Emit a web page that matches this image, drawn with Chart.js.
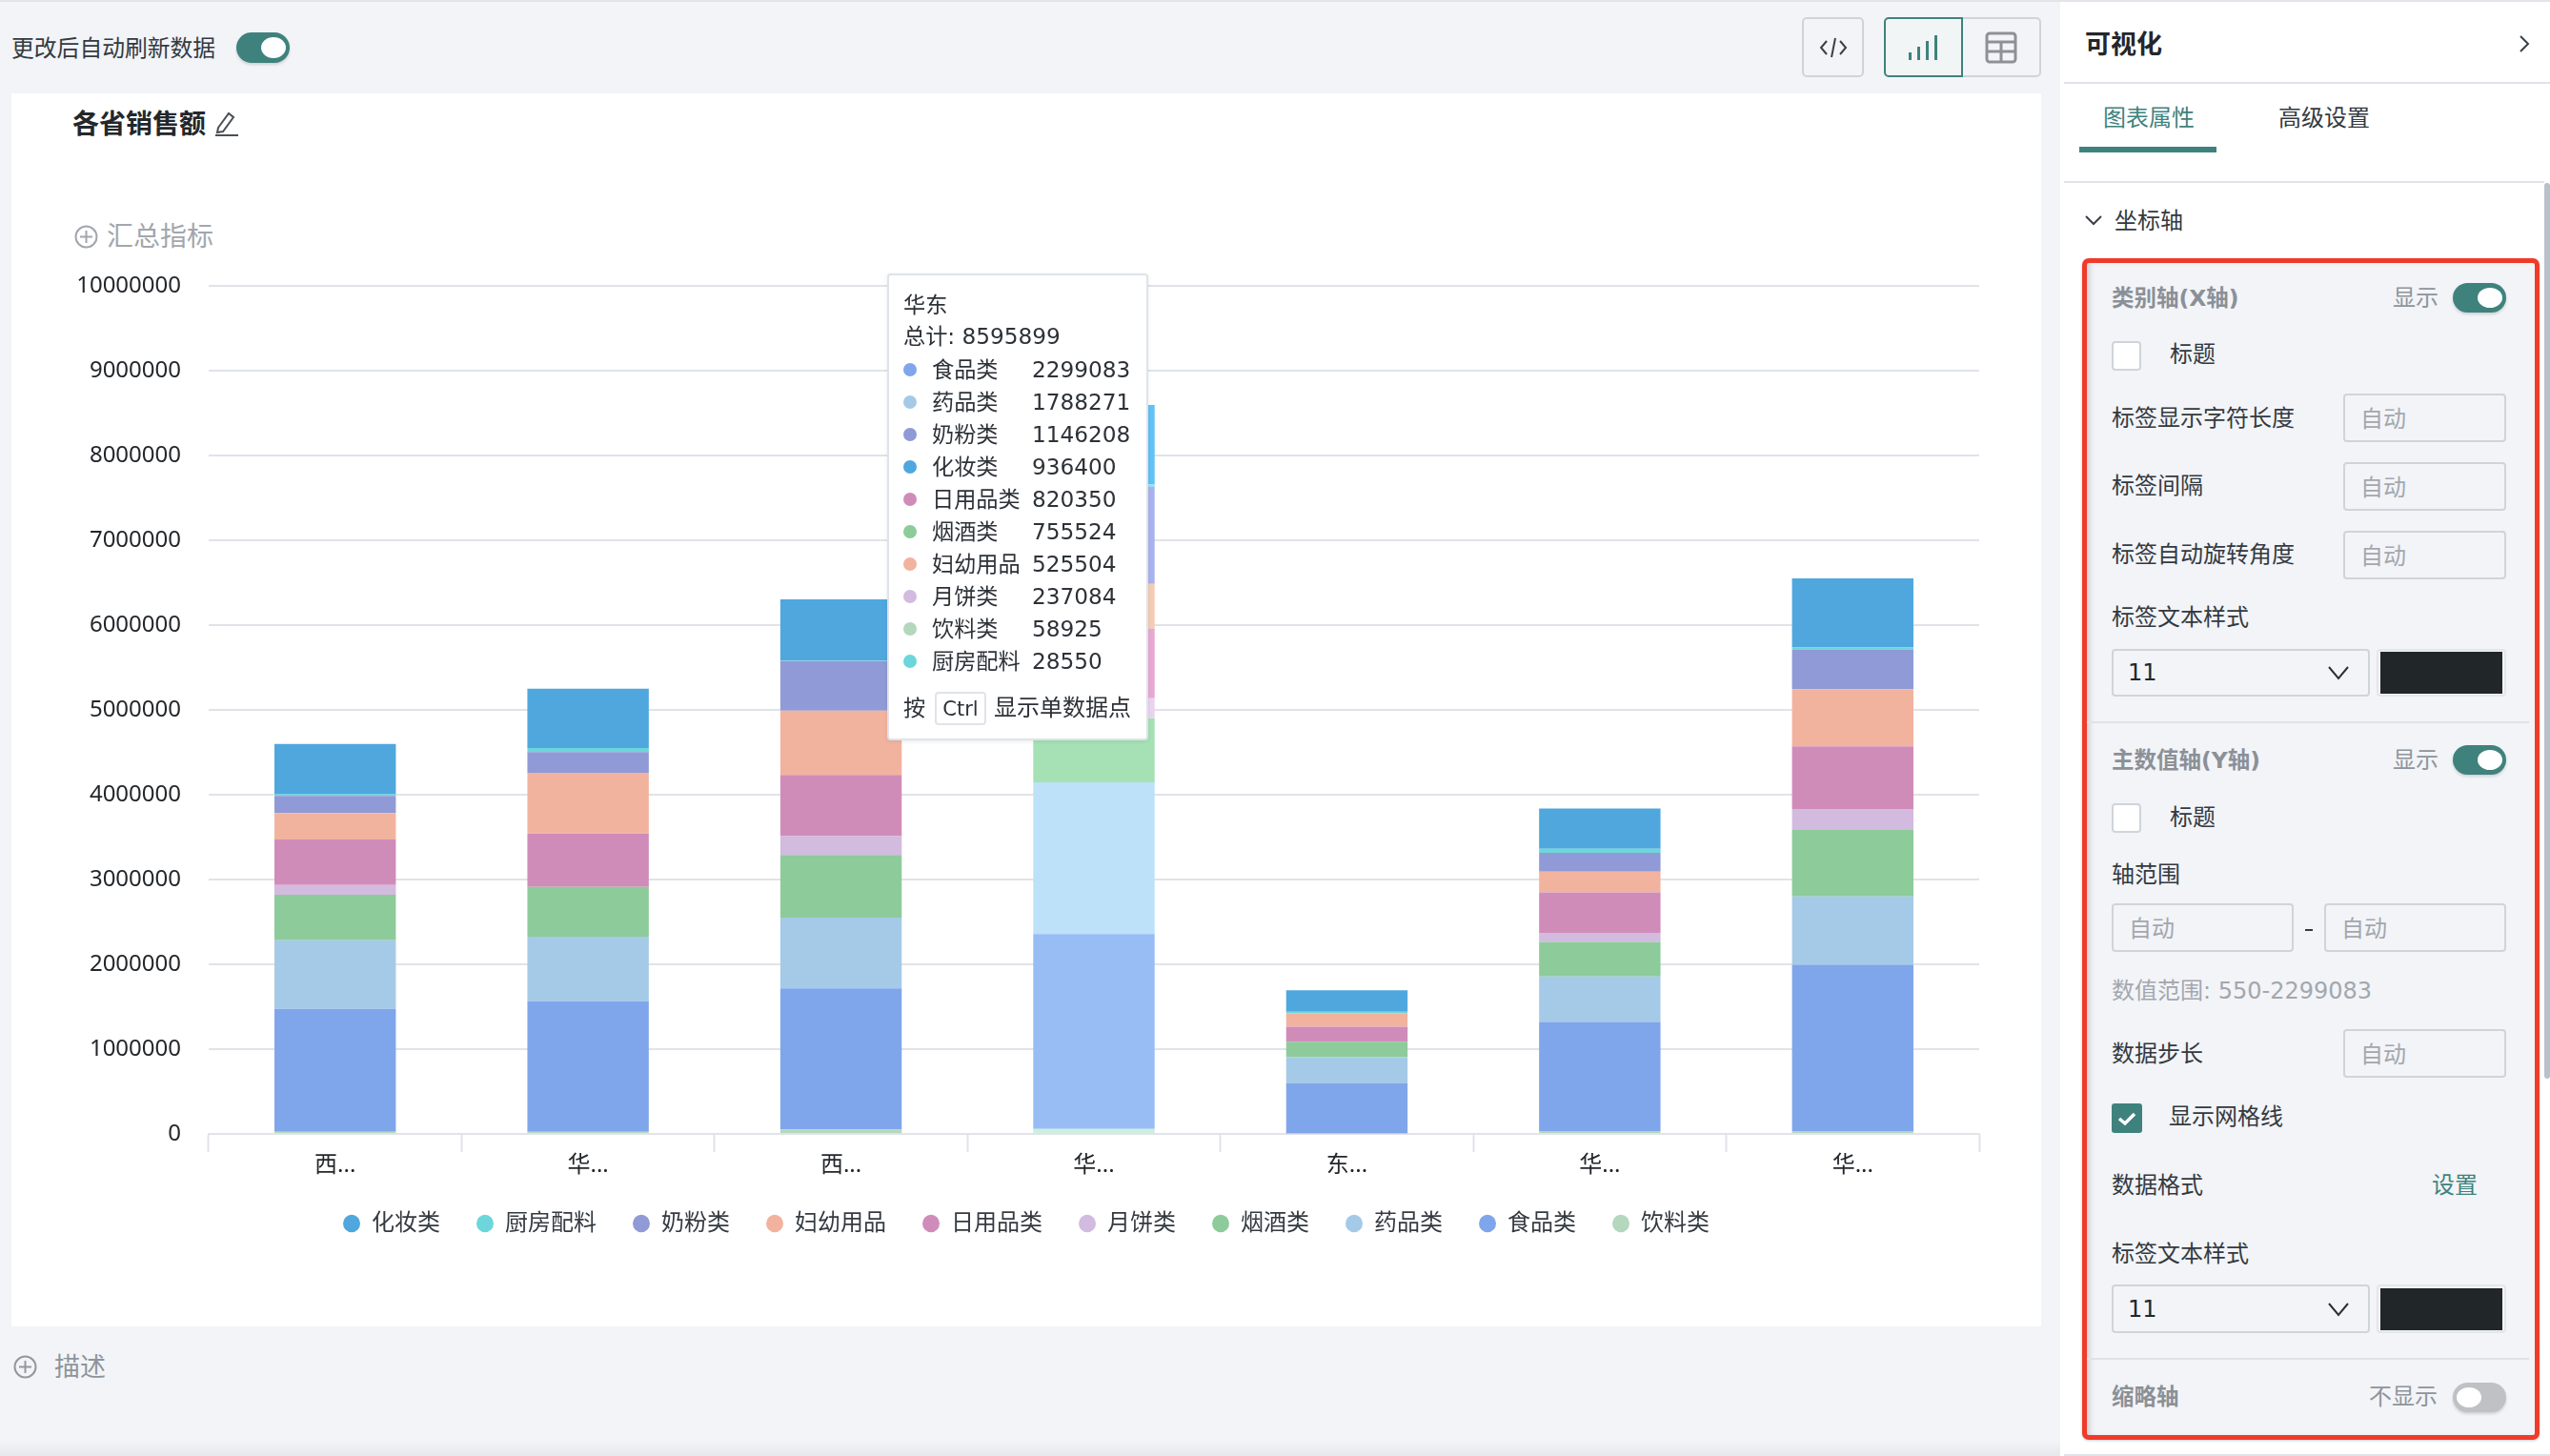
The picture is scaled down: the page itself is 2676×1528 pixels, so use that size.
<!DOCTYPE html>
<html lang="zh">
<head>
<meta charset="utf-8">
<title>各省销售额</title>
<script src="https://cdn.jsdelivr.net/npm/chart.js@4/dist/chart.umd.min.js"></script>
<style>
html, body { margin: 0; width: 2676px; height: 1528px; overflow: hidden; background: #f2f4f8; }
body { font-family: "DejaVu Sans", "Noto Sans CJK SC", sans-serif; color: #343a40; font-size: 24px; position: relative; }
.abs { position: absolute; }
.t { position: absolute; white-space: nowrap; transform: translateY(-50%); line-height: 1.2; }
.cjk { font-family: "Noto Sans", "Noto Sans CJK SC", sans-serif; }
.gray { color: #8f949b; }
.head { color: #8b9097; font-weight: 700; font-size: 23.5px; }
.box { position: absolute; box-sizing: border-box; border: 2px solid #d0d4da; border-radius: 4px; }
.input { position: absolute; box-sizing: border-box; border: 2px solid #d0d4da; border-radius: 4px; color: #a3a7ad; display: flex; align-items: center; padding: 0 0 2px 16px; height: 51px; }
.toggle { position: absolute; width: 56px; height: 31px; border-radius: 16px; background: #3f827d; box-shadow: 0 2px 3px rgba(0,0,0,.15); }
.toggle i { position: absolute; top: 5px; right: 4px; width: 26px; height: 21px; border-radius: 50%; background: #fff; }
.toggle.off { background: #bfc1c5; }
.toggle.off i { left: 4px; right: auto; }
.line { position: absolute; height: 2px; background: #dfe2e7; }
#tip { position: absolute; left: 931px; top: 287px; width: 274px; height: 490px; box-sizing: border-box; background: #fff; border: 2px solid #e0e3e9; border-radius: 4px; box-shadow: 0 1px 4px rgba(60,70,90,.12); z-index: 5; color: #2d3238; font-size: 23.2px; }
#tip .dot { position: absolute; left: 15px; width: 14px; height: 14px; border-radius: 50%; transform: translateY(-50%); }
</style>
</head>
<body>
<div class="abs" style="left:0;top:0;width:2676px;height:2px;background:#e2e4ea"></div>
<div class="abs" style="left:0;top:1512px;width:2162px;height:16px;background:linear-gradient(#f2f4f8,#e6e8ec)"></div>

<!-- toolbar -->
<div class="t cjk" style="left:12px;top:50px;font-size:23.8px">更改后自动刷新数据</div>
<div class="toggle" style="left:248px;top:34px;height:32px"><i style="height:22px"></i></div>
<div class="box" style="left:1891px;top:18px;width:65px;height:63px;border-radius:5px"></div>
<svg class="abs" style="left:1909px;top:38px" width="30" height="24" fill="none" stroke="#3a4047" stroke-width="2"><path d="M8 5 L2 12 L8 19 M22 5 L28 12 L22 19 M17 2 L13 22"/></svg>
<div class="box" style="left:2055px;top:18px;width:87px;height:63px;border-radius:0 5px 5px 0"></div>
<div class="box" style="left:1977px;top:18px;width:83px;height:63px;border-color:#3f827d;border-radius:5px 0 0 5px;background:#f1f5f6"></div>
<svg class="abs" style="left:2000px;top:35px" width="36" height="30" fill="#3f827d"><rect x="3" y="20" width="3" height="8"/><rect x="12" y="14" width="3" height="14"/><rect x="21" y="8" width="3" height="20"/><rect x="30" y="2" width="3" height="26"/></svg>
<svg class="abs" style="left:2083px;top:33px" width="34" height="34" fill="none" stroke="#8d9197" stroke-width="3"><rect x="2" y="2" width="30" height="30" rx="3"/><path d="M2 11 H32 M2 21 H32 M17 11 V32"/></svg>

<!-- chart card -->
<div class="abs" style="left:12px;top:98px;width:2130px;height:1294px;background:#fff"></div>
<div class="t cjk" style="left:76px;top:130px;font-size:28px;font-weight:700;color:#23272b">各省销售额</div>
<svg class="abs" style="left:224px;top:116px" width="28" height="28" fill="none" stroke="#4a4f55" stroke-width="2"><path d="M5 18 L16 3 L21 7 L10 22 L4 23 Z M2 26 H26"/></svg>
<svg class="abs" style="left:78px;top:236px" width="25" height="25" fill="none" stroke="#a2a6ad" stroke-width="2"><circle cx="12.5" cy="12.5" r="11"/><path d="M12.5 6 V19 M6 12.5 H19"/></svg>
<div class="t cjk" style="left:112px;top:248px;font-size:28px;color:#a2a6ad">汇总指标</div>
<div class="abs" style="left:12px;top:98px;width:2130px;height:1294px"><canvas id="chart" width="2130" height="1294"></canvas></div>
<div id="tip"></div>
<svg class="abs" style="left:14px;top:1422px" width="25" height="25" fill="none" stroke="#94989f" stroke-width="2"><circle cx="12.5" cy="12.5" r="11"/><path d="M12.5 6 V19 M6 12.5 H19"/></svg>
<div class="t cjk gray" style="left:57px;top:1434px;font-size:27px">描述</div>

<!-- side panel -->
<div class="abs" style="left:2162px;top:2px;width:514px;height:1526px;background:#fff"></div>
<div class="t cjk" style="left:2188px;top:46px;font-size:27px;font-weight:700;color:#23272b">可视化</div>
<svg class="abs" style="left:2642px;top:36px" width="14" height="20" fill="none" stroke="#3a4047" stroke-width="2"><path d="M3 2 L11 10 L3 18"/></svg>
<div class="line" style="left:2166px;top:86px;width:510px"></div>
<div class="t" style="left:2207px;top:124px;color:#3f827d">图表属性</div>
<div class="t" style="left:2391px;top:124px">高级设置</div>
<div class="abs" style="left:2182px;top:154px;width:144px;height:6px;background:#3f827d"></div>
<div class="line" style="left:2166px;top:190px;width:504px"></div>
<div class="abs" style="left:2670px;top:192px;width:6px;height:940px;background:#b9c2cc;border-radius:3px"></div>
<svg class="abs" style="left:2187px;top:224px" width="20" height="14" fill="none" stroke="#3a4047" stroke-width="2"><path d="M2 3 L10 11 L18 3"/></svg>
<div class="t" style="left:2219px;top:232px">坐标轴</div>

<div id="panel" class="abs" style="left:2185px;top:271px;width:480px;height:1240px;box-sizing:border-box;border:5.5px solid #f03a2a;border-radius:7px;background:#f2f4f8;box-shadow:inset 6px 0 6px -4px rgba(60,60,60,.25), 0 1px 3px rgba(0,0,0,.2)"></div>
<div class="line" style="left:2190px;top:757px;width:464px"></div>
<div class="line" style="left:2190px;top:1425px;width:464px"></div>
<div class="abs" style="left:2166px;top:1526px;width:510px;height:2px;background:#dfe2e7"></div>

<div class="t head" style="left:2216px;top:313px">类别轴(X轴)</div>
<div class="t gray" style="left:2511px;top:313px">显示</div>
<div class="toggle" style="left:2574px;top:297px"><i></i></div>
<div class="box" style="left:2216px;top:358px;width:31px;height:31px;background:#fff"></div>
<div class="t" style="left:2277px;top:372px">标题</div>
<div class="t" style="left:2216px;top:439px">标签显示字符长度</div>
<div class="input" style="left:2459px;top:413px;width:171px">自动</div>
<div class="t" style="left:2216px;top:510px">标签间隔</div>
<div class="input" style="left:2459px;top:485px;width:171px">自动</div>
<div class="t" style="left:2216px;top:582px">标签自动旋转角度</div>
<div class="input" style="left:2459px;top:557px;width:171px">自动</div>
<div class="t" style="left:2216px;top:648px">标签文本样式</div>
<div class="box" style="left:2216px;top:681px;width:271px;height:50px"></div>
<div class="t" style="left:2233px;top:706px;color:#23272b">11</div>
<svg class="abs" style="left:2442px;top:697px" width="24" height="18" fill="none" stroke="#2b3035" stroke-width="2"><path d="M2 3 L12 15 L22 3"/></svg>
<div class="box" style="left:2494px;top:681px;width:136px;height:50px;border-color:#e3e6ea"></div>
<div class="abs" style="left:2498px;top:684px;width:128px;height:44px;background:#212629"></div>

<div class="t head" style="left:2216px;top:798px">主数值轴(Y轴)</div>
<div class="t gray" style="left:2511px;top:798px">显示</div>
<div class="toggle" style="left:2574px;top:782px"><i></i></div>
<div class="box" style="left:2216px;top:843px;width:31px;height:31px;background:#fff"></div>
<div class="t" style="left:2277px;top:858px">标题</div>
<div class="t" style="left:2216px;top:918px">轴范围</div>
<div class="input" style="left:2216px;top:948px;width:191px">自动</div>
<div class="abs" style="left:2419px;top:975px;width:8px;height:2px;background:#343a40"></div>
<div class="input" style="left:2439px;top:948px;width:191px">自动</div>
<div class="t" style="left:2216px;top:1040px;color:#a3a7ad">数值范围: <span id="range"></span></div>
<div class="t" style="left:2216px;top:1106px">数据步长</div>
<div class="input" style="left:2459px;top:1080px;width:171px">自动</div>
<div class="abs" style="left:2216px;top:1158px;width:32px;height:31px;background:#3f827d;border-radius:3px"></div>
<svg class="abs" style="left:2221px;top:1163px" width="22" height="21" fill="none" stroke="#fff" stroke-width="3.5"><path d="M3 11 L9 16 L19 6"/></svg>
<div class="t" style="left:2276px;top:1172px">显示网格线</div>
<div class="t" style="left:2216px;top:1244px">数据格式</div>
<div class="t" style="left:2552px;top:1244px;color:#3f827d">设置</div>
<div class="t" style="left:2216px;top:1316px">标签文本样式</div>
<div class="box" style="left:2216px;top:1348px;width:271px;height:51px"></div>
<div class="t" style="left:2233px;top:1374px;color:#23272b">11</div>
<svg class="abs" style="left:2442px;top:1365px" width="24" height="18" fill="none" stroke="#2b3035" stroke-width="2"><path d="M2 3 L12 15 L22 3"/></svg>
<div class="box" style="left:2494px;top:1348px;width:136px;height:51px;border-color:#e3e6ea"></div>
<div class="abs" style="left:2498px;top:1352px;width:128px;height:44px;background:#212629"></div>
<div class="t head" style="left:2216px;top:1466px">缩略轴</div>
<div class="t gray" style="left:2486px;top:1466px">不显示</div>
<div class="toggle off" style="left:2574px;top:1451px"><i></i></div>

<script>
// chart values; 华东 comes from the tooltip
const categories = ['西...', '华...', '西...', '华...', '东...', '华...', '华...'];
const tooltipCategory = '华东';
const hoveredIndex = 3;

const seriesNames = ['饮料类', '食品类', '药品类', '烟酒类', '月饼类', '日用品类', '妇幼用品', '奶粉类', '厨房配料', '化妆类'];
const legendOrder = ['化妆类', '厨房配料', '奶粉类', '妇幼用品', '日用品类', '月饼类', '烟酒类', '药品类', '食品类', '饮料类'];

const drinks    = [26000, 26000, 52000, 58925, 550, 34000, 34000];
const food      = [1450000, 1540000, 1665000, 2299083, 595000, 1285000, 1960000];
const medicine  = [807000, 760000, 833000, 1788271, 309000, 538000, 807000];
const tobacco   = [536000, 588000, 738000, 755524, 183000, 406000, 784000];
const mooncakes = [116000, 0, 223000, 237084, 0, 109000, 246000];
const daily     = [536000, 627000, 721000, 820350, 177000, 475000, 738000];
const baby      = [313000, 717000, 760000, 525504, 160000, 246000, 675000];
const milk      = [202000, 245000, 584000, 1146208, 0, 223000, 469000];
const kitchen   = [21000, 47000, 6000, 28550, 17000, 46000, 23000];
const cosmetics = [590000, 700000, 721000, 936400, 252000, 475000, 815000];
const seriesValues = [drinks, food, medicine, tobacco, mooncakes, daily, baby, milk, kitchen, cosmetics];

const baseColors  = ['#B4D7BD', '#7FA6EA', '#A5CAE8', '#8DCB9A', '#D3BADF', '#D08CB9', '#F2B39E', '#8F9AD6', '#6CD6DB', '#4FA7DE'];
const hoverColors = ['#CDF0DC', '#98BDF5', '#BDE1F8', '#A5E1B4', '#EBD3F0', '#E7A8D2', '#F5CDB5', '#A9B2EC', '#7DEDF2', '#62C1F5'];

const axisFont = '"Noto Sans", "Noto Sans CJK SC", sans-serif';

new Chart(document.getElementById('chart'), {
    type: 'bar',
    data: {
        labels: categories,
        datasets: seriesNames.map((name, s) => ({
            label: name,
            data: seriesValues[s],
            backgroundColor: categories.map((c, i) => i === hoveredIndex ? hoverColors[s] : baseColors[s]),
            barPercentage: 0.48,
            categoryPercentage: 1
        }))
    },
    options: {
        responsive: false,
        animation: false,
        devicePixelRatio: 1,
        layout: { padding: { top: 202, right: 65, bottom: 86, left: 65 } },
        plugins: {
            tooltip: { enabled: false },
            legend: {
                position: 'bottom',
                labels: {
                    usePointStyle: true,
                    pointStyle: 'circle',
                    pointStyleWidth: 18,
                    boxHeight: 13,
                    padding: 38,
                    color: '#343a40',
                    font: { family: axisFont, size: 24 },
                    sort: (a, b) => legendOrder.indexOf(a.text) - legendOrder.indexOf(b.text)
                }
            }
        },
        scales: {
            x: {
                stacked: true,
                afterFit: scale => { scale.height = 44; },
                border: { color: '#e0e3e9', width: 2 },
                grid: { offset: true, drawOnChartArea: false, tickLength: 19, tickColor: '#e0e3e9', tickWidth: 2 },
                ticks: { autoSkip: false, maxRotation: 0, padding: 0, color: '#23272b', font: { family: axisFont, size: 24 } }
            },
            y: {
                stacked: true,
                min: 0,
                max: 10000000,
                afterFit: scale => { scale.width = 142; },
                border: { display: false },
                grid: { color: '#e0e3e9', lineWidth: 2, drawTicks: false },
                ticks: { stepSize: 1000000, padding: 29, color: '#23272b', font: { family: axisFont, size: 24 }, callback: v => v }
            }
        }
    }
});

// html tooltip for the hovered category, in the order the app lists it
const tip = document.getElementById('tip');
const rows = seriesNames
    .map((name, s) => ({ name, value: seriesValues[s][hoveredIndex], color: baseColors[s] }))
    .sort((a, b) => b.value - a.value);
const total = rows.reduce((sum, r) => sum + r.value, 0);
let html = `<div class="t" style="left:15px;top:31px">${tooltipCategory}</div>` +
    `<div class="t" style="left:15px;top:64px">总计: ${total}</div>`;
rows.forEach((r, i) => {
    const y = 99 + i * 34;
    html += `<div class="dot" style="top:${y}px;background:${r.color}"></div>` +
        `<div class="t" style="left:45px;top:${y}px">${r.name}</div>` +
        `<div class="t" style="left:150px;top:${y}px">${r.value}</div>`;
});
html += `<div class="t" style="left:15px;top:454px">按</div>` +
    `<div class="box" style="left:48px;top:437px;width:54px;height:35px;border-color:#e0e3e9;display:flex;align-items:center;justify-content:center;font-size:21px">Ctrl</div>` +
    `<div class="t" style="left:110px;top:454px;font-size:24px">显示单数据点</div>`;
tip.innerHTML = html;

const allValues = seriesValues.flat().filter(v => v > 0);
document.getElementById('range').textContent = Math.min(...allValues) + '-' + Math.max(...allValues);
</script>
</body>
</html>
